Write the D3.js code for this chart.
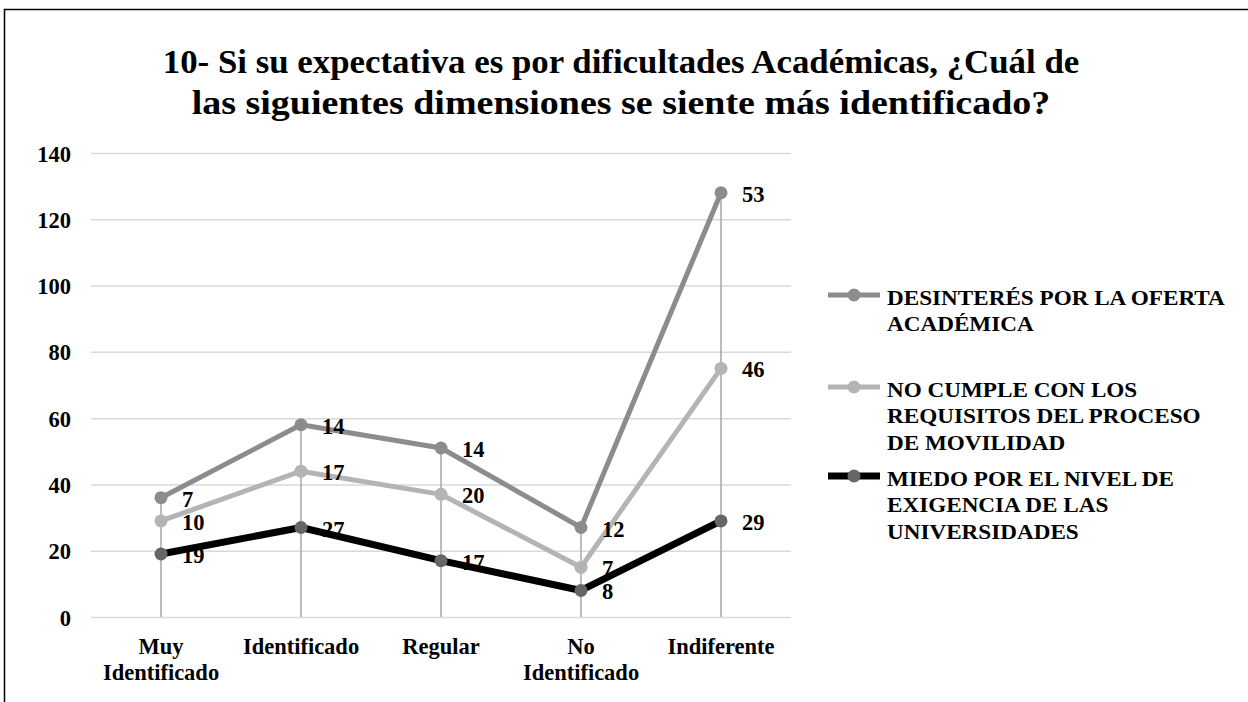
<!DOCTYPE html>
<html>
<head>
<meta charset="utf-8">
<script src="https://cdn.jsdelivr.net/npm/d3@7"></script>
<style>
  html, body { margin: 0; padding: 0; background: #fff; }
  svg { display: block; }
</style>
</head>
<body>
<svg id="chart" width="1248" height="702" font-family="Liberation Serif, Times New Roman, serif" font-weight="bold"></svg>
<script>
// Categories along the x axis
const categories = ["Muy Identificado", "Identificado", "Regular", "No Identificado", "Indiferente"];

// Series values (stacked, bottom to top)
const miedo = [19, 27, 17, 8, 29];
const noCumple = [10, 17, 20, 7, 46];
const desinteres = [7, 14, 14, 12, 53];

const yTicks = [0, 20, 40, 60, 80, 100, 120, 140];

const titleLines = [
  "10- Si su expectativa es por dificultades Académicas, ¿Cuál de",
  "las siguientes dimensiones se siente más identificado?"
];

// Legend entries, top to bottom, already broken into lines
const legendLines = [
  ["DESINTERÉS POR LA OFERTA", "ACADÉMICA"],
  ["NO CUMPLE CON LOS", "REQUISITOS DEL PROCESO", "DE MOVILIDAD"],
  ["MIEDO POR EL NIVEL DE", "EXIGENCIA DE LAS", "UNIVERSIDADES"]
];

const FONT = "Liberation Serif, Times New Roman, serif";
const svg = d3.select("#chart");

// Squeeze or stretch a text horizontally to a given width, keeping its anchor point
function fitX(node, width, ax, ay) {
  const w = node.getComputedTextLength();
  const s = width / w;
  d3.select(node).attr("transform", `translate(${ax},${ay}) scale(${s},1) translate(${-ax},${-ay})`);
  return s;
}

// Outer frame
svg.append("rect")
  .attr("x", 4.5).attr("y", 9.5)
  .attr("width", 1260).attr("height", 720)
  .attr("fill", "#fff").attr("stroke", "#000").attr("stroke-width", 1.5);

// Title
const titleWidths = [917, 859];
svg.append("g").selectAll("text").data(titleLines).join("text")
  .attr("font-family", FONT).attr("font-weight", "bold").attr("fill", "#000")
  .attr("x", 621).attr("y", (d, i) => 73 + i * 41.5)
  .attr("text-anchor", "middle")
  .attr("font-size", 34)
  .text(d => d)
  .each(function (d, i) { fitX(this, titleWidths[i], 621, 73 + i * 41.5); });

// Stack the series
const table = categories.map((c, i) => ({ cat: c, s0: miedo[i], s1: noCumple[i], s2: desinteres[i] }));
const stack = d3.stack().keys(["s0", "s1", "s2"]);
const layers = stack(table);

const x = d3.scaleBand().domain(categories).range([91, 791]);
const y = d3.scaleLinear().domain([0, 140]).range([617, 153]);
const cx = c => x(c) + x.bandwidth() / 2;

// Gridlines and y axis labels
const yAxis = d3.axisLeft(y).tickValues(yTicks).tickSize(-700).tickPadding(20);
const gy = svg.append("g").attr("transform", "translate(91,0)").call(yAxis);
gy.attr("font-family", FONT).attr("font-size", 22.5);
gy.select(".domain").remove();
gy.selectAll(".tick line").attr("stroke", "#d9d9d9").attr("stroke-width", 1.5);
gy.selectAll(".tick text")
  .attr("font-family", FONT).attr("font-weight", "bold").attr("fill", "#000")
  .attr("font-size", 22.5).attr("dy", "0.36em");

// Drop lines from the top of the stack to the axis
const topLayer = layers[layers.length - 1];
svg.append("g").selectAll("line").data(topLayer).join("line")
  .attr("x1", d => cx(d.data.cat)).attr("x2", d => cx(d.data.cat))
  .attr("y1", d => y(d[1])).attr("y2", y(0))
  .attr("stroke", "#a6a6a6").attr("stroke-width", 1.5);

// X axis labels, long ones wrapped onto two lines
const xAxis = d3.axisBottom(x).tickSize(0).tickPadding(21);
const gx = svg.append("g").attr("transform", `translate(0,${y(0)})`).call(xAxis);
gx.attr("font-family", FONT).attr("font-size", 22.5);
gx.select(".domain").remove();
gx.selectAll(".tick text")
  .attr("font-family", FONT).attr("font-weight", "bold").attr("fill", "#000")
  .attr("font-size", 22.5)
  .each(function (d) {
    const t = d3.select(this);
    const words = d.split(" ");
    if (words.length > 1 && d.length > 12) {
      t.text(null);
      words.forEach((w, i) => t.append("tspan").attr("x", 0).attr("dy", i === 0 ? "0.71em" : "1.16em").text(w));
    }
  });

const styles = [
  { line: "#000000", width: 7, marker: "#666666" },
  { line: "#b4b4b4", width: 5, marker: "#b4b4b4" },
  { line: "#8c8c8c", width: 5, marker: "#8c8c8c" }
];
const values = [miedo, noCumple, desinteres];

const line = d3.line().x(d => cx(d.data.cat)).y(d => y(d[1]));

function drawSeries(i) {
  const g = svg.append("g");
  g.append("path").datum(layers[i]).attr("d", line)
    .attr("fill", "none").attr("stroke", styles[i].line)
    .attr("stroke-width", styles[i].width).attr("stroke-linejoin", "round");
  g.selectAll("circle").data(layers[i]).join("circle")
    .attr("cx", d => cx(d.data.cat)).attr("cy", d => y(d[1])).attr("r", 6.5)
    .attr("fill", styles[i].marker);
}

function drawLabels(i) {
  svg.append("g").selectAll("text").data(layers[i]).join("text")
    .attr("font-family", FONT).attr("font-weight", "bold").attr("fill", "#000")
    .attr("x", d => cx(d.data.cat) + 21).attr("y", d => y(d[1]) + 9)
    .attr("font-size", 22.5)
    .text((d, j) => values[i][j]);
}

drawSeries(2);
drawSeries(1);
drawLabels(2);
drawLabels(1);
drawLabels(0);
drawSeries(0);

// Legend
const legendOrder = [2, 1, 0];
const legendY = [295, 387, 476];
let legendScale = null;
legendOrder.forEach((si, k) => {
  const g = svg.append("g").attr("transform", `translate(0,${legendY[k]})`);
  g.append("line").attr("x1", 828).attr("x2", 880).attr("y1", 0).attr("y2", 0)
    .attr("stroke", styles[si].line).attr("stroke-width", styles[si].width);
  g.append("circle").attr("cx", 854).attr("cy", 0).attr("r", 6.5).attr("fill", styles[si].marker);
  g.selectAll("text").data(legendLines[k]).join("text")
    .attr("font-family", FONT).attr("font-weight", "bold").attr("fill", "#000")
    .attr("x", 887).attr("y", (d, i) => 10 + i * 26.5)
    .attr("font-size", 22)
    .text(d => d)
    .each(function (d, i) {
      const yy = 10 + i * 26.5;
      if (legendScale === null) {
        legendScale = fitX(this, 338, 887, yy);
      } else {
        d3.select(this).attr("transform", `translate(887,${yy}) scale(${legendScale},1) translate(-887,${-yy})`);
      }
    });
});
</script>
</body>
</html>
